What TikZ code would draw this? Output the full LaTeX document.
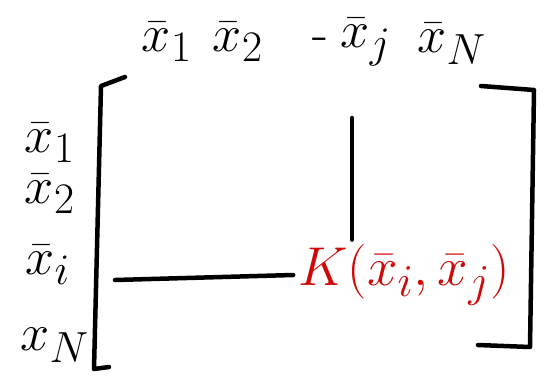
\documentclass[tikz,border=0pt]{standalone}
\usepackage{amsmath}
\usetikzlibrary{positioning}
\definecolor{inkred}{RGB}{208,8,8}

\begin{document}
\begin{tikzpicture}[x=1pt,y=-1pt,line width=4.5pt,line cap=round,line join=round]
\useasboundingbox (0,0) rectangle (545,389);
\tikzset{lab/.style={inner sep=0pt,font=\Huge,scale=2.1},
         kern/.style={inner sep=0pt,text=inkred,font=\Huge,scale=2.2}}

% column labels
\node[lab] (T1) at (167,42) {$\bar{x}_1$};
\node[lab] (T2) at (238,42) {$\bar{x}_2$};
\node[lab] (Td) at (320,44) {-};
\node[lab] (Tj) at (366,42) {$\bar{x}_j$};
\node[lab] (TN) at (452,44) {$\bar{x}_N$};

% row labels
\node[lab] (L1) at (50,143) {$\bar{x}_1$};
\node[lab] (L2) at (50,194) {$\bar{x}_2$};
\node[lab] (Li) at (48,265) {$\bar{x}_i$};
\node[lab] (LN) at (55,345) {$x_N$};

% entry
\node[kern] (K) at (404,275) {$K(\bar{x}_i,\bar{x}_j)$};

% brackets
\coordinate (B1) at (125,77);
\coordinate (B2) at (101,86);
\coordinate (B3) at (94,369);
\coordinate (B4) at (109,367);
\draw (B1) -- (B2) -- (B3) -- (B4);
\coordinate (C1) at (481,86);
\coordinate (C2) at (534,90);
\coordinate (C3) at (530,347);
\coordinate (C4) at (478,345);
\draw (C1) -- (C2) -- (C3) -- (C4);

% row and column guides
\coordinate (Hs) at (115,280);
\coordinate (Vs) at (352,118);
\draw (Hs) -- (K.west);
\draw (Vs) -- (Vs |- K.north);
\end{tikzpicture}
\end{document}
